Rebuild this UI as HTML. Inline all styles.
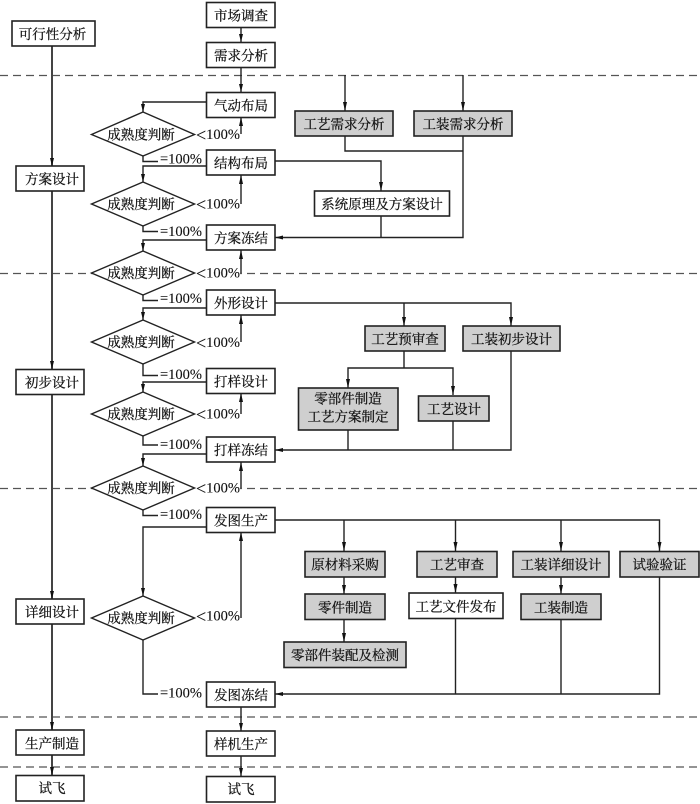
<!DOCTYPE html>
<html lang="zh"><head><meta charset="utf-8"><style>
html,body{margin:0;padding:0;background:#fff;width:700px;height:804px;overflow:hidden}
svg{display:block;filter:blur(.3px)}
text{font-family:"Liberation Serif","Noto Serif CJK SC",serif;font-size:13.5px;fill:#111;stroke:#111;stroke-width:.25;text-anchor:middle;dominant-baseline:central;transform:translateY(.8px)}
.n{font-family:"Liberation Serif",serif;font-size:14.5px;text-anchor:start;stroke-width:.1}
.b{font-size:18px}
rect{stroke:#222;stroke-width:1.6;fill:#fff}
rect.g{fill:#cfcfcf}
rect.w{stroke:none}
polygon.d{fill:#fff;stroke:#222;stroke-width:1.4}
path.l{fill:none;stroke:#222;stroke-width:1.4}
path.t{fill:none;stroke:#444;stroke-width:2}
path.a{fill:#111;stroke:none}
line.h{stroke:#555;stroke-width:1.2;stroke-dasharray:8 5}
</style></head><body>
<svg width="700" height="804" viewBox="0 0 700 804" xmlns="http://www.w3.org/2000/svg">
<line class="h" x1="0" y1="75.5" x2="700" y2="75.5"/>
<line class="h" x1="0" y1="273.5" x2="700" y2="273.5"/>
<line class="h" x1="0" y1="488.5" x2="700" y2="488.5"/>
<line class="h" x1="0" y1="717" x2="700" y2="717"/>
<line class="h" x1="0" y1="767" x2="700" y2="767"/>
<rect class="w" x="194" y="270" width="46" height="7"/>
<rect class="w" x="194" y="485" width="46" height="7"/>

<path class="t" d="M52 46V166M52 191V369M52 395V599M52 624V730M52 755V775"/>
<path class="a" d="M52 166l-2-8h4zM52 369l-2-8h4zM52 599l-2-8h4zM52 730l-2-8h4zM52 775l-2-8h4z"/>

<path class="l" d="M241 27V42M241 67V92M241 707V731M241 756V776"/>
<path class="a" d="M241 42l-2-8h4zM241 92l-2-8h4zM241 731l-2-8h4zM241 776l-2-8h4z"/>

<path class="l" d="M206 102H143V112M143 156V161.500H158M206 166H143V182M143 226V231.500H158M206 240H143V251M143 295V300.500H158M206 308H143V320M143 364V375.500H158M206 382H143V392M143 436V445H158M206 454H143V466M143 510V515.500H158M206 527H143V596M143 640V694H158"/>
<path class="a" d="M143 112l-2-8h4zM143 182l-2-8h4zM143 251l-2-8h4zM143 320l-2-8h4zM143 392l-2-8h4zM143 466l-2-8h4zM143 596l-2-8h4z"/>

<path class="l" d="M241 134V117M241 204V175M241 273V250M241 342V315M241 414V393M241 488V462M241 618V532"/>
<path class="a" d="M241 117l-2 9h4zM241 175l-2 9h4zM241 250l-2 9h4zM241 315l-2 9h4zM241 393l-2 9h4zM241 462l-2 9h4zM241 532l-2 9h4z"/>

<path class="l" d="M345 75V111M463 75V111M345 136V151H463M463 136V237.500H275M275 161H381V191M381 216V237"/>
<path class="a" d="M345 111l-2-9h4zM463 111l-2-9h4zM381 191l-2-9h4zM275 237.500l8-2v4z"/>

<path class="l" d="M275 303H511V326M404 303V326M404 351V368M348 388V368H453V395M348 430V450M453 421V450M511 351V450H275"/>
<path class="a" d="M404 326l-2-9h4zM511 326l-2-9h4zM348 388l-2-9h4zM453 395l-2-9h4zM275 450l8-2v4z"/>

<path class="l" d="M275 520H659.500V551M344 520V551M455.500 520V551M561 520V551M344 577V594M455.500 577V593M561 577V594M344 620V642M455.500 619V694M561 620V694M659.500 577V694H275"/>
<path class="a" d="M344 551l-2-9h4zM455.500 551l-2-9h4zM561 551l-2-9h4zM659.500 551l-2-9h4zM344 594l-2-9h4zM455.500 593l-2-9h4zM561 594l-2-9h4zM344 642l-2-9h4zM275 694l8-2v4z"/>

<rect x="12" y="21" width="83" height="25"/><text x="52.500" y="33.500">可行性分析</text>
<rect x="16" y="166" width="68" height="25"/><text x="52" y="178.500">方案设计</text>
<rect x="16" y="369.500" width="68" height="25"/><text x="52" y="382">初步设计</text>
<rect x="16" y="599" width="68" height="25"/><text x="52" y="611.500">详细设计</text>
<rect x="16" y="730" width="68" height="25"/><text x="52" y="743">生产制造</text>
<rect x="16" y="775.500" width="68" height="25.500"/><text x="52" y="787.500">试飞</text>

<rect x="206.500" y="2.500" width="68.500" height="25"/><text x="241" y="15">市场调查</text>
<rect x="206.500" y="42.500" width="68.500" height="25"/><text x="241" y="55">需求分析</text>
<rect x="206.500" y="92.500" width="68.500" height="25"/><text x="241" y="105">气动布局</text>
<rect x="206.500" y="150" width="68.500" height="25"/><text x="241" y="162.500">结构布局</text>
<rect x="206.500" y="225" width="68.500" height="25"/><text x="241" y="237.500">方案冻结</text>
<rect x="206.500" y="290" width="68.500" height="25"/><text x="241" y="302.500">外形设计</text>
<rect x="206.500" y="368.500" width="68.500" height="25"/><text x="241" y="381">打样设计</text>
<rect x="206.500" y="437" width="68.500" height="25"/><text x="241" y="449.500">打样冻结</text>
<rect x="206.500" y="507.500" width="68.500" height="25"/><text x="241" y="520">发图生产</text>
<rect x="206.500" y="682" width="68.500" height="25"/><text x="241" y="694.500">发图冻结</text>
<rect x="206.500" y="731" width="68.500" height="25"/><text x="241" y="743.500">样机生产</text>
<rect x="206.500" y="776.500" width="68.500" height="25.500"/><text x="241" y="788.500">试飞</text>

<polygon class="d" points="91.500,134.500 143,112 194.500,134.500 143,156"/><text x="141" y="134">成熟度判断</text>
<polygon class="d" points="91.500,204 143,182 194.500,204 143,226"/><text x="141" y="203.500">成熟度判断</text>
<polygon class="d" points="91.500,273 143,251 194.500,273 143,295"/><text x="141" y="272.500">成熟度判断</text>
<polygon class="d" points="91.500,342 143,320 194.500,342 143,364"/><text x="141" y="341.500">成熟度判断</text>
<polygon class="d" points="91.500,414 143,392 194.500,414 143,436"/><text x="141" y="413.500">成熟度判断</text>
<polygon class="d" points="91.500,488 143,466 194.500,488 143,510"/><text x="141" y="487.500">成熟度判断</text>
<polygon class="d" points="91.500,618 143,596 194.500,618 143,640"/><text x="141" y="617.500">成熟度判断</text>

<text class="n" x="196" y="134"><tspan class="b">&lt;</tspan>100%</text>
<text class="n" x="196" y="203.500"><tspan class="b">&lt;</tspan>100%</text>
<text class="n" x="196" y="272.500"><tspan class="b">&lt;</tspan>100%</text>
<text class="n" x="196" y="342"><tspan class="b">&lt;</tspan>100%</text>
<text class="n" x="196" y="413.500"><tspan class="b">&lt;</tspan>100%</text>
<text class="n" x="196" y="487.500"><tspan class="b">&lt;</tspan>100%</text>
<text class="n" x="196" y="615.500"><tspan class="b">&lt;</tspan>100%</text>
<text class="n" x="160" y="158.500">=100%</text>
<text class="n" x="160" y="231">=100%</text>
<text class="n" x="160" y="298">=100%</text>
<text class="n" x="160" y="374">=100%</text>
<text class="n" x="160" y="444">=100%</text>
<text class="n" x="160" y="514">=100%</text>
<text class="n" x="160" y="692.500">=100%</text>

<rect class="g" x="295" y="111" width="98" height="25"/><text x="344" y="123.500">工艺需求分析</text>
<rect class="g" x="414" y="111" width="98" height="25"/><text x="463" y="123.500">工装需求分析</text>
<rect x="314.500" y="191" width="135" height="25"/><text x="382" y="203.500">系统原理及方案设计</text>

<rect class="g" x="365" y="326" width="80" height="25"/><text x="405" y="338.500">工艺预审查</text>
<rect class="g" x="463" y="326" width="97" height="25"/><text x="511.500" y="338.500">工装初步设计</text>
<rect class="g" x="298.500" y="388" width="99.500" height="42"/><text x="348" y="398">零部件制造</text><text x="348" y="416">工艺方案制定</text>
<rect class="g" x="418.500" y="396" width="70.500" height="25"/><text x="454" y="408.500">工艺设计</text>

<rect class="g" x="305" y="551.500" width="80" height="25.500"/><text x="345" y="564">原材料采购</text>
<rect class="g" x="417" y="551.500" width="80" height="25.500"/><text x="457" y="564">工艺审查</text>
<rect class="g" x="513" y="551.500" width="96" height="25.500"/><text x="561" y="564">工装详细设计</text>
<rect class="g" x="620" y="551.500" width="79" height="25.500"/><text x="659.500" y="564">试验验证</text>
<rect class="g" x="305" y="594" width="80" height="25.500"/><text x="345" y="607">零件制造</text>
<rect x="409" y="593" width="94" height="25.500"/><text x="456" y="606">工艺文件发布</text>
<rect class="g" x="521" y="594" width="80" height="25.500"/><text x="561" y="607">工装制造</text>
<rect class="g" x="284" y="642" width="122" height="25.500"/><text x="345" y="654.500">零部件装配及检测</text>
</svg>
</body></html>
